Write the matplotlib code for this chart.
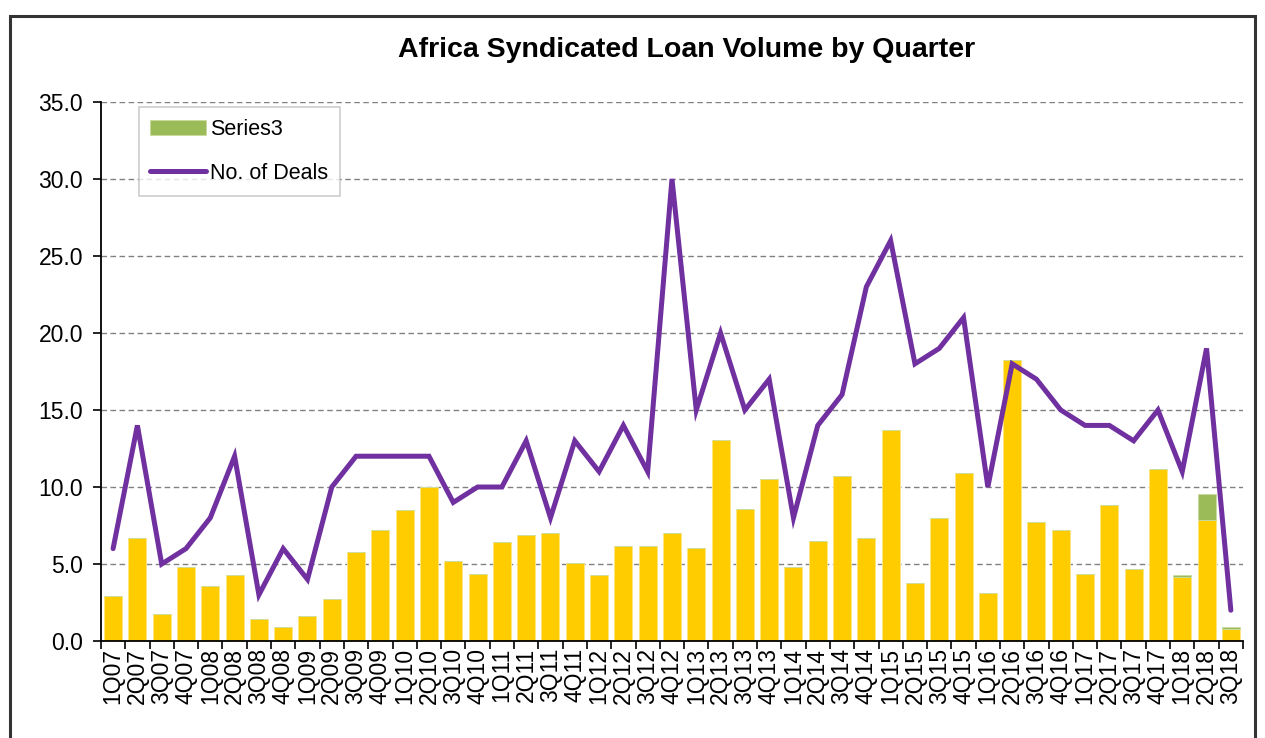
import matplotlib
matplotlib.use("Agg")
import matplotlib.pyplot as plt
from matplotlib.patches import Rectangle
from matplotlib.ticker import FixedLocator, FormatStrFormatter
import numpy as np

quarters = [f"{q}Q{y:02d}" for y in range(7, 19) for q in range(1, 5)][:47]

volume = [2.9, 6.7, 1.75, 4.8, 3.6, 4.3, 1.4, 0.9, 1.6, 2.7,
          5.8, 7.2, 8.5, 10.0, 5.2, 4.35, 6.4, 6.9, 7.0, 5.05,
          4.3, 6.2, 6.2, 7.0, 6.05, 13.05, 8.6, 10.5, 4.8, 6.5,
          10.7, 6.7, 13.7, 3.75, 8.0, 10.9, 3.1, 18.25, 7.7, 7.2,
          4.35, 8.8, 4.7, 11.2, 4.15, 7.85, 0.8]

series3 = [0] * 44 + [0.12, 1.7, 0.1]

deals = [6, 14, 5, 6, 8, 12, 3, 6, 4, 10,
         12, 12, 12, 12, 9, 10, 10, 13, 8, 13,
         11, 14, 11, 30, 15, 20, 15, 17, 8, 14,
         16, 23, 26, 18, 19, 21, 10, 18, 17, 15,
         14, 14, 13, 15, 11, 19, 2]

plt.rcParams['font.family'] = ['Liberation Sans', 'DejaVu Sans']

fig = plt.figure(figsize=(12.65, 7.38), dpi=100)
ax = fig.add_axes([0.0798, 0.1314, 0.9028, 0.7304])

x = np.arange(len(quarters))
ax.bar(x, volume, width=0.74, color='#FFCC00', edgecolor='#FFE680', linewidth=0.6, zorder=2)
bars3 = ax.bar(x, series3, width=0.74, bottom=volume, color='#9BBB59', edgecolor='#C9DBA0',
               linewidth=0.6, label='Series3', zorder=2)
line, = ax.plot(x, deals, color='#7030A0', linewidth=3.6, solid_capstyle='round',
                solid_joinstyle='miter', label='No. of Deals', zorder=3)

ax.set_xlim(-0.5, len(quarters) - 0.5)
ax.set_ylim(0, 35)
ax.set_yticks(np.arange(0, 36, 5))
ax.yaxis.set_major_formatter(FormatStrFormatter('%.1f'))
ax.grid(axis='y', color='#808080', linestyle=(0, (4, 2.5)), linewidth=1.0, zorder=1)

ax.set_xticks(x)
ax.set_xticklabels(quarters, rotation=90, fontsize=16.5)
ax.xaxis.set_minor_locator(FixedLocator(np.arange(-0.5, len(quarters), 1)))
ax.tick_params(axis='x', which='major', length=0, pad=5)
ax.tick_params(axis='x', which='minor', length=6, width=1.2, direction='out')
ax.tick_params(axis='y', labelsize=16.5, length=6, width=1.2, pad=7)

for s in ['top', 'right']:
    ax.spines[s].set_visible(False)
for s in ['left', 'bottom']:
    ax.spines[s].set_linewidth(1.3)

fig.text(0.543, 0.932, 'Africa Syndicated Loan Volume by Quarter',
         ha='center', va='center', fontsize=20.5, fontweight='bold')

leg = ax.legend([bars3, line], ['Series3', 'No. of Deals'],
                loc='upper left', bbox_to_anchor=(0.033, 0.99), fontsize=15.5,
                frameon=True, fancybox=False, edgecolor='#C0C0C0',
                handlelength=2.6, handleheight=0.7, handletextpad=0.15,
                labelspacing=1.05, borderpad=0.55, borderaxespad=0)
leg.get_frame().set_linewidth(1.2)

fig.patches.append(Rectangle((10 / 1265, -0.1), 1245 / 1265, 1.1 - 16 / 738,
                             transform=fig.transFigure, fill=False,
                             edgecolor='#333333', linewidth=2.2))

fig.savefig('out.png', dpi=100)
